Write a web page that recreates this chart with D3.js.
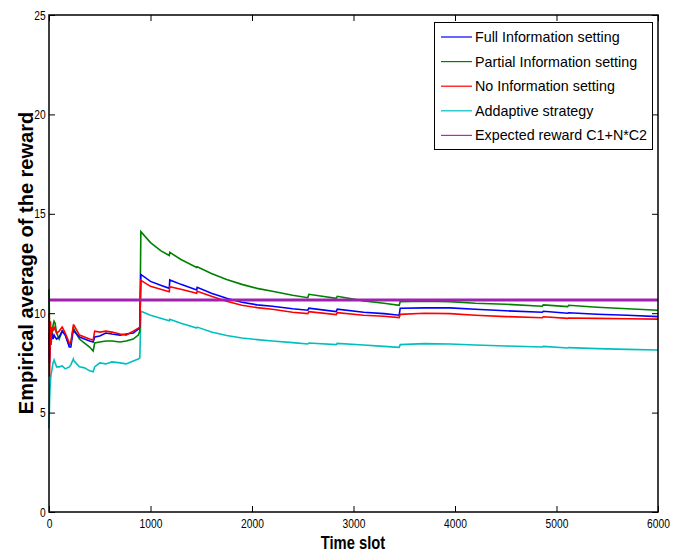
<!DOCTYPE html>
<html><head><meta charset="utf-8">
<script src="https://cdn.jsdelivr.net/npm/d3@7"></script>
<style>body{margin:0;background:#fff}</style>
</head><body><svg id="c" width="683" height="552"></svg>
<script>
const timeSlots = [0,5,10,15,20,30,40,50,60,75,100,130,160,200,215,240,245,300,350,400,435,450,500,560,620,700,760,830,880,895,905,
  1000,1100,1185,1190,1300,1455,1460,1600,1750,1900,2050,2200,2400,2550,2560,2830,2840,3100,3300,3450,3460,3700,3950,4200,4500,4860,4870,5110,5120,5400,5700,6000];
const fullInfo = [9.0,7.5,8.2,9.3,8.6,9.0,8.7,8.9,8.8,8.7,8.8,9.1,8.9,8.3,8.3,9.2,9.1,8.8,8.7,8.6,8.55,8.8,8.85,9.0,8.95,8.9,8.95,9.0,9.2,9.3,11.95,
  11.6,11.4,11.25,11.67,11.45,11.17,11.3,11.0,10.75,10.55,10.42,10.35,10.22,10.15,10.25,10.08,10.2,10.05,9.98,9.9,10.25,10.27,10.27,10.2,10.12,10.05,10.1,10.0,10.02,9.95,9.9,9.83];
const partialInfo = [11.2,9.5,8.3,8.9,8.4,9.0,9.4,9.6,9.5,9.0,8.7,9.1,8.9,8.4,8.5,9.3,9.2,8.7,8.5,8.3,8.1,8.5,8.55,8.6,8.6,8.55,8.6,8.7,8.9,9.1,14.1,
  13.55,13.15,12.9,13.06,12.7,12.3,12.34,12.0,11.7,11.45,11.25,11.1,10.9,10.78,10.95,10.75,10.85,10.62,10.5,10.4,10.58,10.6,10.58,10.5,10.45,10.35,10.42,10.33,10.4,10.3,10.22,10.15];
const noInfo = [10.0,6.8,8.0,9.6,8.5,9.3,9.1,9.3,9.2,9.0,9.1,9.3,9.0,8.5,8.5,9.4,9.4,8.9,8.8,8.7,8.65,9.1,9.05,9.1,9.05,8.95,8.9,9.1,9.25,9.3,11.65,
  11.35,11.2,11.08,11.33,11.2,11.0,11.1,10.85,10.6,10.4,10.28,10.2,10.05,9.98,10.08,9.93,10.03,9.9,9.85,9.78,9.94,10.0,9.98,9.9,9.83,9.77,9.82,9.74,9.76,9.74,9.72,9.7];
const adaptive = [4.2,5.5,6.2,6.6,6.9,7.2,7.5,7.65,7.5,7.3,7.3,7.35,7.2,7.3,7.4,7.7,7.6,7.3,7.25,7.1,7.05,7.3,7.5,7.45,7.55,7.5,7.45,7.6,7.7,7.75,10.1,
  9.9,9.75,9.62,9.7,9.5,9.25,9.3,9.05,8.88,8.75,8.67,8.6,8.52,8.45,8.5,8.42,8.48,8.4,8.33,8.28,8.42,8.47,8.45,8.4,8.35,8.3,8.33,8.25,8.27,8.22,8.18,8.15];
const expectedReward = 10.66;
const seriesNames = ["Full Information setting","Partial Information setting","No Information setting","Addaptive strategy","Expected reward C1+N*C2"];
const seriesColors = ["#0000ff","#008000","#ff0000","#00bfbf","#a020b0"];
const xTicks = [0,1000,2000,3000,4000,5000,6000];
const yTicks = [0,5,10,15,20,25];

const svg = d3.select("#c");
const L=49,R=658,T=15,B=512;
const x = d3.scaleLinear().domain([0,6000]).range([L,R]);
const y = d3.scaleLinear().domain([0,25]).range([B,T]);
const tickFont = "'Liberation Sans Narrow','Arial Narrow','Liberation Sans',sans-serif";

const g = svg.append("g");
const line = d3.line().x(d=>x(d[0])).y(d=>y(d[1]));
const allSeries = [fullInfo, partialInfo, noInfo, adaptive];
[3,1,0,2].forEach(i=>{
  g.append("path").datum(timeSlots.map((t,k)=>[t,allSeries[i][k]]))
   .attr("d",line).attr("fill","none").attr("stroke",seriesColors[i]).attr("stroke-width",1.6);
});
g.append("path").datum([[0,expectedReward],[6000,expectedReward]]).attr("d",line)
  .attr("fill","none").attr("stroke",seriesColors[4]).attr("stroke-width",3);

const ax = svg.append("g");
ax.append("rect").attr("x",L).attr("y",T).attr("width",R-L).attr("height",B-T)
  .attr("fill","none").attr("stroke","#000").attr("stroke-width",1.5);
const xa = ax.append("g").attr("transform",`translate(0,${B})`)
  .call(d3.axisBottom(x).tickValues(xTicks).tickSize(-6).tickPadding(7).tickFormat(d3.format("d")));
const xt = ax.append("g").attr("transform",`translate(0,${T})`)
  .call(d3.axisTop(x).tickValues(xTicks).tickSize(-6).tickFormat(""));
const ya = ax.append("g").attr("transform",`translate(${L},0)`)
  .call(d3.axisLeft(y).tickValues(yTicks).tickSize(-6).tickPadding(4).tickFormat(d3.format("d")));
const yr = ax.append("g").attr("transform",`translate(${R},0)`)
  .call(d3.axisRight(y).tickValues(yTicks).tickSize(-6).tickFormat(""));
[xa,xt,ya,yr].forEach(a=>{
  a.select(".domain").remove();
  a.selectAll(".tick line").attr("stroke","#000").attr("stroke-width",1);
  a.selectAll("text").attr("font-family",tickFont).attr("font-size",12.5).attr("fill","#000")
    .attr("transform","scale(0.82,1)");
});

svg.append("text").attr("transform","translate(353,549) scale(0.82,1)").attr("text-anchor","middle")
  .attr("font-family",tickFont).attr("font-weight","bold").attr("font-size",18).text("Time slot");
svg.append("text").attr("transform","translate(33,263) rotate(-90)").attr("text-anchor","middle")
  .attr("font-family","'Liberation Sans',Arial,sans-serif").attr("font-weight","bold").attr("font-size",20)
  .text("Empirical average of the reward");

const lg = svg.append("g");
lg.append("rect").attr("x",434.5).attr("y",22.5).attr("width",218).attr("height",127)
  .attr("fill","#fff").attr("stroke","#000").attr("stroke-width",1);
seriesNames.forEach((n,i)=>{
  const yy = 37 + i*24.6;
  lg.append("line").attr("x1",441).attr("x2",472).attr("y1",yy).attr("y2",yy)
    .attr("stroke",i==4?"#c020c0":seriesColors[i]).attr("stroke-width",1.2);
  lg.append("text").attr("x",475).attr("y",yy+5).attr("font-family","'Liberation Sans',Arial,sans-serif")
    .attr("font-size",14.3).attr("fill","#000").text(n);
});
</script></body></html>
